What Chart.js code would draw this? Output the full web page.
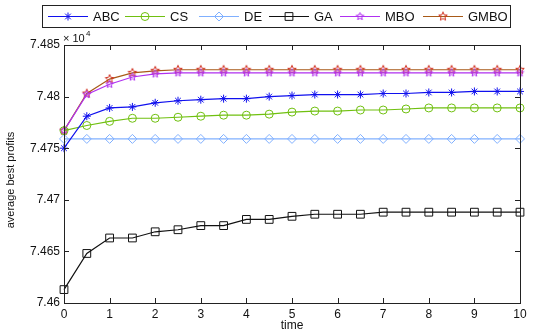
<!DOCTYPE html>
<html>
<head>
<meta charset="utf-8">
<script src="https://cdn.jsdelivr.net/npm/chart.js@4.4.0/dist/chart.umd.min.js"></script>
<style>
html,body{margin:0;padding:0;background:#fff;}
#wrap{width:550px;height:334px;position:relative;}
</style>
</head>
<body>
<div id="wrap"><canvas id="c" width="550" height="334"></canvas></div>
<script>
const time = [0,0.5,1,1.5,2,2.5,3,3.5,4,4.5,5,5.5,6,6.5,7,7.5,8,8.5,9,9.5,10];
const xTicks = [0,1,2,3,4,5,6,7,8,9,10];
const yTicks = [7.46,7.465,7.47,7.475,7.48,7.485];
const seriesNames = ['ABC','CS','DE','GA','MBO','GMBO'];
const abc  = [7.4750,7.4781,7.4789,7.4790,7.4794,7.4796,7.4797,7.4798,7.4798,7.4800,7.4801,7.4802,7.4802,7.4802,7.4803,7.4803,7.4804,7.4804,7.4805,7.4805,7.4805];
const cs   = [7.4767,7.4772,7.4776,7.4779,7.4779,7.4780,7.4781,7.4782,7.4782,7.4783,7.4785,7.4786,7.4786,7.4787,7.4787,7.4788,7.4789,7.4789,7.4789,7.4789,7.4789];
const de   = [7.4759,7.4759,7.4759,7.4759,7.4759,7.4759,7.4759,7.4759,7.4759,7.4759,7.4759,7.4759,7.4759,7.4759,7.4759,7.4759,7.4759,7.4759,7.4759,7.4759,7.4759];
const ga   = [7.4613,7.4648,7.4663,7.4663,7.4669,7.4671,7.4675,7.4675,7.4681,7.4681,7.4684,7.4686,7.4686,7.4686,7.4688,7.4688,7.4688,7.4688,7.4688,7.4688,7.4688];
const mbo  = [7.4767,7.4802,7.4812,7.4819,7.4822,7.4823,7.4823,7.4823,7.4823,7.4823,7.4823,7.4823,7.4823,7.4823,7.4823,7.4823,7.4823,7.4823,7.4823,7.4823,7.4823];
const gmbo = [7.4767,7.4803,7.4817,7.4823,7.4825,7.4826,7.4826,7.4826,7.4826,7.4826,7.4826,7.4826,7.4826,7.4826,7.4826,7.4826,7.4826,7.4826,7.4826,7.4826,7.4826];

function starCanvas(color, n, r) {
  const s = Math.ceil(r*2+3);
  const cv = document.createElement('canvas');
  cv.width = s; cv.height = s;
  const g = cv.getContext('2d');
  const cx = s/2, cy = s/2, ri = r*0.45;
  g.beginPath();
  for (let i = 0; i < n*2; i++) {
    const rr = i % 2 === 0 ? r : ri;
    const a = -Math.PI/2 + i*Math.PI/n;
    const px = cx + rr*Math.cos(a), py = cy + rr*Math.sin(a);
    if (i === 0) g.moveTo(px, py); else g.lineTo(px, py);
  }
  g.closePath();
  g.strokeStyle = color; g.lineWidth = 1; g.stroke();
  return cv;
}
const mboStar = starCanvas('#b030f0', 5, 4);
const gmboStar = starCanvas('#d03020', 5, 4.5);

function pts(arr){ return arr.map((v,i)=>({x:time[i], y:v})); }

const fontFam = "'Liberation Sans', Arial, sans-serif";
const datasets = [
  {label:'ABC', data:pts(abc), borderColor:'#1010ee', pointStyle:'star', pointRadius:4, pointBorderColor:'#1010ee'},
  {label:'CS', data:pts(cs), borderColor:'#70c010', pointStyle:'circle', pointRadius:4, pointBorderColor:'#70c010'},
  {label:'DE', data:pts(de), borderColor:'#80b0ff', pointStyle:'rectRot', pointRadius:4.5, pointBorderColor:'#80b0ff'},
  {label:'GA', data:pts(ga), borderColor:'#111111', pointStyle:'rect', pointRadius:5.5, pointBorderColor:'#111111'},
  {label:'MBO', data:pts(mbo), borderColor:'#b030f0', pointStyle:mboStar, pointRadius:4, pointBorderColor:'#b030f0'},
  {label:'GMBO', data:pts(gmbo), borderColor:'#a85a18', pointStyle:gmboStar, pointRadius:4.5, pointBorderColor:'#d03020'}
].map(d => Object.assign({borderWidth:1.2, pointBorderWidth:1, pointBackgroundColor:'rgba(0,0,0,0)', tension:0, clip:false, fill:false}, d));

const decor = {
  id:'decor',
  afterDraw(chart){
    const ctx = chart.ctx, a = chart.chartArea;
    const xs = chart.scales.x, ys = chart.scales.y;
    ctx.save();
    ctx.strokeStyle = '#222'; ctx.lineWidth = 1;
    ctx.strokeRect(Math.round(a.left)+0.5, Math.round(a.top)+0.5, Math.round(a.right-a.left), Math.round(a.bottom-a.top));
    ctx.beginPath();
    xTicks.forEach(v=>{
      const p = Math.round(xs.getPixelForValue(v))+0.5;
      ctx.moveTo(p, a.bottom); ctx.lineTo(p, a.bottom-5);
      ctx.moveTo(p, a.top); ctx.lineTo(p, a.top+5);
    });
    yTicks.forEach(v=>{
      const p = Math.round(ys.getPixelForValue(v))+0.5;
      ctx.moveTo(a.left, p); ctx.lineTo(a.left+5, p);
      ctx.moveTo(a.right, p); ctx.lineTo(a.right-5, p);
    });
    ctx.stroke();
    // axis titles
    ctx.fillStyle = '#111';
    ctx.font = '12px ' + fontFam;
    ctx.textAlign = 'center'; ctx.textBaseline = 'middle';
    ctx.fillText('time', (a.left+a.right)/2, 326);
    ctx.save();
    ctx.translate(11, 180); ctx.rotate(-Math.PI/2);
    ctx.font = '11px ' + fontFam;
    ctx.fillText('average best profits', 0, 0);
    ctx.restore();
    // exponent
    ctx.textAlign = 'left'; ctx.textBaseline = 'alphabetic';
    ctx.font = '11px ' + fontFam;
    ctx.fillText('\u00d7 10', 63, 42);
    ctx.font = '8px ' + fontFam;
    ctx.fillText('4', 86, 36);
    // legend
    const lx = 42, ly = 5, lw = 468, lh = 22;
    ctx.fillStyle = '#fff';
    ctx.fillRect(lx, ly, lw, lh);
    ctx.strokeStyle = '#222';
    ctx.strokeRect(lx+0.5, ly+0.5, lw, lh);
    const starts = [48,125,199,269,340,423];
    const cy = ly + lh/2 + 0.5;
    ctx.font = '13px ' + fontFam;
    ctx.textBaseline = 'middle';
    chart.data.datasets.forEach((d,i)=>{
      const s = starts[i];
      ctx.strokeStyle = d.borderColor; ctx.lineWidth = 1.2;
      ctx.beginPath(); ctx.moveTo(s, cy); ctx.lineTo(s+40, cy); ctx.stroke();
      const opts = {pointStyle:d.pointStyle, radius:d.pointRadius, rotation:0, borderWidth:1};
      ctx.strokeStyle = d.pointBorderColor; ctx.fillStyle = 'rgba(0,0,0,0)'; ctx.lineWidth = 1;
      if (Chart.helpers && Chart.helpers.drawPoint) Chart.helpers.drawPoint(ctx, opts, s+20, cy);
      ctx.fillStyle = '#111';
      ctx.fillText(d.label, s+45, cy+1);
    });
    ctx.restore();
  }
};

new Chart(document.getElementById('c'), {
  type:'line',
  data:{datasets},
  options:{
    responsive:false, animation:false,
    layout:{padding:{top:45, right:30, left:0, bottom:0}},
    plugins:{legend:{display:false}, tooltip:{enabled:false}},
    scales:{
      x:{type:'linear', min:0, max:10,
        afterFit(s){ s.height = 31; },
        afterBuildTicks(s){ s.ticks = xTicks.map(v=>({value:v})); },
        grid:{display:false, drawTicks:false, tickLength:0}, border:{display:false},
        ticks:{color:'#111', font:{family:fontFam, size:12}, padding:4, maxRotation:0, callback:v=>String(v)}
      },
      y:{type:'linear', min:7.46, max:7.485,
        afterFit(s){ s.width = 64; },
        afterBuildTicks(s){ s.ticks = yTicks.map(v=>({value:v})); },
        grid:{display:false, drawTicks:false, tickLength:0}, border:{display:false},
        ticks:{color:'#111', font:{family:fontFam, size:12}, padding:4, callback:v=>String(Number(v.toFixed(3)))}
      }
    }
  },
  plugins:[decor]
});
</script>
</body>
</html>
